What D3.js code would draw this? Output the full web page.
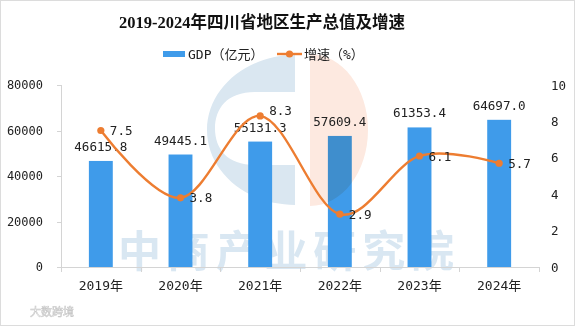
<!DOCTYPE html>
<html>
<head>
<meta charset="utf-8">
<script src="https://cdn.jsdelivr.net/npm/d3@7"></script>
<style>
  html, body { margin: 0; padding: 0; background: #fff; }
  svg { display: block; }
  .num { font-family: "DejaVu Sans Mono", "Noto Sans CJK SC", monospace; fill: #222; }
</style>
</head>
<body>
<svg id="chart" width="575" height="326"></svg>
<script>
// Sichuan GDP 2019-2024 with annual growth rate
const years = ["2019年", "2020年", "2021年", "2022年", "2023年", "2024年"];
const gdp = [46615.8, 49445.1, 55131.3, 57609.4, 61353.4, 64697.0];
const growth = [7.5, 3.8, 8.3, 2.9, 6.1, 5.7];
const leftTicks = [0, 20000, 40000, 60000, 80000];
const rightTicks = [0, 2, 4, 6, 8, 10];

const W = 575, H = 326;
const margin = { left: 61, right: 36, top: 85, bottom: 59 };
const plotRight = W - margin.right;
const plotBottom = H - margin.bottom;

const svg = d3.select("#chart");

// light frame
svg.append("rect")
  .attr("x", 0.5).attr("y", 0.5).attr("width", W - 1).attr("height", H - 1)
  .attr("fill", "#fff").attr("stroke", "#dcdcdc");

const x = d3.scaleBand().domain(years)
  .range([margin.left, plotRight]).paddingInner(0.7).paddingOuter(0.35);
const yL = d3.scaleLinear().domain([0, 80000]).range([plotBottom, margin.top]);
const yR = d3.scaleLinear().domain([0, 10]).range([plotBottom, margin.top]);

// background brand mark (blue half)
const blueArc = d3.path();
{
  const cx = 295, cy = 130, rx = 88, ry = 75;
  const ix = 80, iy = 36.5, icy = 128.5;
  blueArc.moveTo(cx, cy - ry);
  blueArc.bezierCurveTo(cx - rx * 0.552, cy - ry, cx - rx, cy - ry * 0.552, cx - rx, cy);
  blueArc.bezierCurveTo(cx - rx, cy + ry * 0.552, cx - rx * 0.552, cy + ry, cx, cy + ry);
  blueArc.lineTo(cx, icy + iy);
  blueArc.lineTo(cx - ix * 0.5, icy + iy);
  blueArc.bezierCurveTo(cx - ix * 0.85, icy + iy, cx - ix, icy + iy * 0.55, cx - ix, icy);
  blueArc.bezierCurveTo(cx - ix, icy - iy * 0.55, cx - ix * 0.85, icy - iy, cx - ix * 0.5, icy - iy);
  blueArc.lineTo(cx, icy - iy);
  blueArc.closePath();
}
svg.append("path").attr("d", blueArc.toString()).attr("fill", "#dae7f1");

// watermark wordmark
svg.append("text")
  .attr("x", 118).attr("y", 267)
  .attr("textLength", 336).attr("lengthAdjust", "spacing")
  .attr("font-family", "Noto Sans CJK SC").attr("font-weight", 700)
  .attr("font-size", 43).attr("fill", "#d9e7f2")
  .text("中商产业研究院");

// axes
const axisColor = "#d4d4d4";
svg.append("line")
  .attr("x1", margin.left + 0.5).attr("x2", margin.left + 0.5)
  .attr("y1", margin.top).attr("y2", plotBottom)
  .attr("stroke", axisColor);
svg.selectAll(".ltick").data(leftTicks).enter().append("line")
  .attr("x1", margin.left - 4).attr("x2", margin.left)
  .attr("y1", d => Math.round(yL(d)) + 0.5).attr("y2", d => Math.round(yL(d)) + 0.5)
  .attr("stroke", axisColor);
svg.selectAll(".llab").data(leftTicks).enter().append("text")
  .attr("class", "num").attr("font-size", 12)
  .attr("x", 43).attr("y", d => yL(d)).attr("dy", "0.36em")
  .attr("text-anchor", "end").text(d => d);
svg.selectAll(".rlab").data(rightTicks).enter().append("text")
  .attr("class", "num").attr("font-size", 12.5)
  .attr("x", 551).attr("y", d => yR(d)).attr("dy", "0.36em")
  .attr("text-anchor", "start").text(d => d);

svg.append("line")
  .attr("x1", margin.left).attr("x2", plotRight)
  .attr("y1", plotBottom + 0.5).attr("y2", plotBottom + 0.5)
  .attr("stroke", axisColor);
const step = x.step();
const bounds = d3.range(years.length + 1).map(i => margin.left + i * step);
svg.selectAll(".xtick").data(bounds).enter().append("line")
  .attr("x1", d => Math.round(d) + 0.5).attr("x2", d => Math.round(d) + 0.5)
  .attr("y1", plotBottom).attr("y2", plotBottom + 5)
  .attr("stroke", axisColor);
svg.selectAll(".xlab").data(years).enter().append("text")
  .attr("class", "num").attr("font-size", 13)
  .attr("x", d => x(d) + x.bandwidth() / 2).attr("y", 285).attr("dy", "0.36em")
  .attr("text-anchor", "middle").text(d => d);

// bars
svg.selectAll(".bar").data(gdp).enter().append("rect")
  .attr("x", (d, i) => x(years[i]))
  .attr("width", x.bandwidth())
  .attr("y", d => yL(d))
  .attr("height", d => plotBottom - yL(d))
  .attr("fill", "#3f9bea");

// salmon half of the mark sits over the bars
const sal = d3.path();
{
  const lx = 310, cy = 130, rx = 58, ry = 76;
  sal.moveTo(lx, cy - ry);
  sal.bezierCurveTo(lx + rx * 0.552, cy - ry, lx + rx, cy - ry * 0.552, lx + rx, cy);
  sal.bezierCurveTo(lx + rx, cy + ry * 0.552, lx + rx * 0.552, cy + ry, lx, cy + ry);
  sal.closePath();
}
svg.append("path").attr("d", sal.toString())
  .attr("fill", "#fde9e0").style("mix-blend-mode", "multiply");

// bar value labels
svg.selectAll(".blab").data(gdp).enter().append("text")
  .attr("class", "num").attr("font-size", 12.6)
  .attr("x", (d, i) => x(years[i]) + x.bandwidth() / 2)
  .attr("y", d => yL(d) - 10)
  .attr("text-anchor", "middle").text(d => d.toFixed(1));

// growth line
const cxOf = i => x(years[i]) + x.bandwidth() / 2;
const line = d3.line()
  .x((d, i) => cxOf(i)).y(d => yR(d))
  .curve(d3.curveCardinal.tension(0));
const orange = "#ed7d31";
svg.append("path").datum(growth)
  .attr("d", line).attr("fill", "none")
  .attr("stroke", orange).attr("stroke-width", 2.4);
svg.selectAll(".pt").data(growth).enter().append("circle")
  .attr("cx", (d, i) => cxOf(i)).attr("cy", d => yR(d)).attr("r", 3.6)
  .attr("fill", orange);
// growth labels sit right of each point; lift a label that would crowd the bar label below it
svg.selectAll(".glab").data(growth).enter().append("text")
  .attr("class", "num").attr("font-size", 12.6)
  .attr("x", (d, i) => cxOf(i) + 9)
  .attr("y", (d, i) => {
    const yc = yR(d);
    const barLabelTop = yL(gdp[i]) - 10 - 9;
    return (yc + 4.5 > barLabelTop - 6 && yc < barLabelTop) ? yc - 5 : yc;
  })
  .attr("dy", "0.36em")
  .attr("text-anchor", "start").text(d => d.toFixed(1));

// title
svg.append("text")
  .attr("x", 262).attr("y", 27.5)
  .attr("text-anchor", "middle")
  .attr("font-family", "'Liberation Serif', 'Noto Sans CJK SC', serif")
  .attr("font-weight", 700).attr("font-size", 16.5).attr("fill", "#111")
  .text("2019-2024年四川省地区生产总值及增速");

// legend
const lg = svg.append("g");
lg.append("rect").attr("x", 163).attr("y", 51).attr("width", 22).attr("height", 6).attr("fill", "#3f9bea");
lg.append("text").attr("class", "num").attr("font-size", 13)
  .attr("x", 188).attr("y", 54).attr("dy", "0.36em").text("GDP（亿元）");
lg.append("line").attr("x1", 277).attr("x2", 302).attr("y1", 54).attr("y2", 54)
  .attr("stroke", orange).attr("stroke-width", 2.4);
lg.append("circle").attr("cx", 289.5).attr("cy", 54).attr("r", 3.6).attr("fill", orange);
lg.append("text").attr("class", "num").attr("font-size", 13)
  .attr("x", 304).attr("y", 54).attr("dy", "0.36em").text("增速（%）");

// corner credit
svg.append("text")
  .attr("x", 30).attr("y", 316)
  .attr("font-family", "Noto Sans CJK SC").attr("font-size", 11)
  .attr("fill", "#fff").attr("stroke", "#c8c8c8").attr("stroke-width", 0.6)
  .text("大数跨境");
</script>
</body>
</html>
